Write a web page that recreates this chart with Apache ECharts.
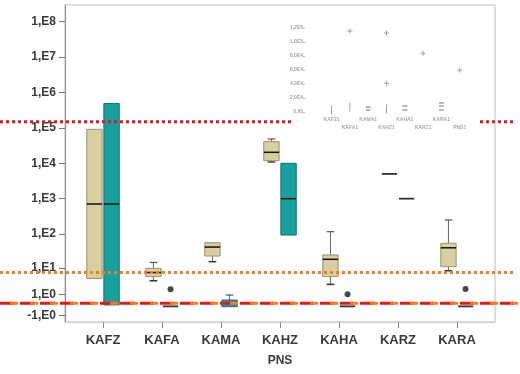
<!DOCTYPE html>
<html><head><meta charset="utf-8">
<script src="https://cdn.jsdelivr.net/npm/echarts@6/dist/echarts.min.js"></script>
<style>html,body{margin:0;padding:0;background:#fff}#c{width:520px;height:374px}</style>
</head><body><div id="c"></div>
<script>
// ---------- data ----------
const categories = ['KAFZ', 'KAFA', 'KAMA', 'KAHZ', 'KAHA', 'KARZ', 'KARA'];
const yTickValues = [-1, 1, 10, 100, 1e3, 1e4, 1e5, 1e6, 1e7, 1e8];
const yTickLabels = ['-1,E0', '1,E0', '1,E1', '1,E2', '1,E3', '1,E4', '1,E5', '1,E6', '1,E7', '1,E8'];
// [min, q1, median, q3, max]
const tanBoxes = [
  [4.6, 4.6, 707, 91000, 91000],
  [3.8, 5.3, 7.2, 9.8, 14.8],
  [15.6, 23, 42, 56, 58],
  [10900, 11800, 20400, 40700, 48500],
  [2.8, 5.3, 18.4, 24.7, 116],
  [5000, 5000, 5000, 5000, 5000],
  [8.2, 11, 40, 54, 249]
];
const tealBoxes = [
  [0, 0, 707, 490000, 490000],
  [-0.1, -0.1, -0.1, -0.1, -0.1],
  [-0.12, -0.12, 0.13, 0.37, 0.9],
  [93, 93, 1000, 10000, 10000],
  [-0.1, -0.1, -0.1, -0.1, -0.1],
  [1000, 1000, 1000, 1000, 1000],
  [-0.1, -0.1, -0.1, -0.1, -0.1]
];
const tealOutliers = [[1, 1.76], [4, 1.0], [6, 1.81]];
const refRedDotted = 1.5e5;
const refOrangeDotted = 7.2;
const refDashed = 0.12;

// inset (small faint chart, upper right)
const insetCategories = ['KAFZ1', 'KAFA1', 'KAMA1', 'KAHZ1', 'KAHA1', 'KARZ1', 'KARA1', 'PNS1'];
const insetYTicks = [0, 20000, 40000, 60000, 80000, 100000, 120000];
const insetYLabels = ['0,00', '2,0E4', '4,0E4', '6,0E4', '8,0E4', '1,0E5', '1,2E5'];
const insetPoints = [[1, 115700], [3, 112800], [5, 84000], [7, 60000], [3, 41000]];
const insetBars = [[0, 2900], [1, 7000], [3, 4300]];
const insetDashes = [[2, 7100], [2, 2900], [4, 8600], [4, 2900], [6, 12900], [6, 8600], [6, 2900]];

// ---------- helpers ----------
function sym(v) { return Math.sign(v) * Math.log10(1 + Math.abs(v)); }
const FONT = 'Liberation Sans';
const BOX_W = 0.26;

function makeBoxSeries(name, boxes, offset, fill, stroke) {
  return {
    type: 'custom', name: name, xAxisIndex: 0, yAxisIndex: 0, z: 3,
    data: boxes.map((b, i) => [i].concat(b.map(sym))),
    encode: { x: 0, y: [1, 2, 3, 4, 5] },
    renderItem: function (params, api) {
      const cx = api.value(0) + offset;
      const v = [1, 2, 3, 4, 5].map(k => api.value(k));
      const p = v.map(val => api.coord([cx, val]));
      const w = api.size([BOX_W, 0])[0];
      const xc = p[0][0];
      const x0 = xc - w / 2;
      const cw = w * 0.25;
      const ch = [];
      const ln = (x1, y1, x2, y2, color, lw) => ({ type: 'line', shape: { x1, y1, x2, y2 }, style: { stroke: color, lineWidth: lw } });
      if (p[4][1] < p[3][1] - 0.8) {
        ch.push(ln(xc, p[3][1], xc, p[4][1], '#666', 1));
        ch.push(ln(xc - cw, p[4][1], xc + cw, p[4][1], '#555', 1.2));
      }
      if (p[0][1] > p[1][1] + 0.8) {
        ch.push(ln(xc, p[1][1], xc, p[0][1], '#666', 1));
        ch.push(ln(xc - cw, p[0][1], xc + cw, p[0][1], '#333', 1.5));
      }
      const h = p[1][1] - p[3][1];
      if (h > 1) {
        ch.push({ type: 'rect', shape: { x: x0, y: p[3][1], width: w, height: h }, style: { fill: fill, stroke: stroke, lineWidth: 1 } });
        ch.push(ln(x0, p[2][1], x0 + w, p[2][1], '#111', 1.5));
      } else {
        ch.push(ln(x0, p[2][1], x0 + w, p[2][1], '#333', 1.8));
      }
      return { type: 'group', children: ch };
    }
  };
}

const chart = echarts.init(document.getElementById('c'), null, { renderer: 'canvas' });
const option = {
  animation: false,
  backgroundColor: '#fff',
  textStyle: { fontFamily: FONT },
  grid: [
    { left: 65, right: 25, top: 5, bottom: 52, show: true, borderColor: '#bdbdbd', borderWidth: 1 },
    { left: 305, width: 173, top: 28, height: 84 }
  ],
  xAxis: [
    {
      type: 'value', gridIndex: 0, min: -0.644, max: 6.644,
      axisLine: { show: true, onZero: false, lineStyle: { color: '#cfcfcf', width: 1 } },
      axisTick: { show: true, customValues: categories.map((c, i) => i), length: 6, lineStyle: { color: '#888' } },
      axisLabel: {
        customValues: categories.map((c, i) => i), margin: 12,
        formatter: v => categories[Math.round(v)] || '',
        color: '#3a3a3a', fontSize: 13, fontWeight: 'bold', fontFamily: FONT
      },
      splitLine: { show: false },
      name: 'PNS', nameLocation: 'middle', nameGap: 33,
      nameTextStyle: { color: '#3a3a3a', fontSize: 12, fontWeight: 'bold', fontFamily: FONT }
    },
    {
      type: 'value', gridIndex: 1, min: -1.45, max: 8.0, z: 5,
      axisLine: { show: false, onZero: false },
      axisTick: { show: false },
      axisLabel: {
        customValues: insetCategories.map((c, i) => i), margin: 4,
        formatter: v => { const i = Math.round(v); return (i % 2 ? '\n' : '') + insetCategories[i]; },
        color: '#a8a8a8', fontSize: 5, fontWeight: 'bold', fontFamily: FONT, lineHeight: 8
      },
      splitLine: { show: false }
    }
  ],
  yAxis: [
    {
      type: 'value', gridIndex: 0, min: -0.483, max: 8.47,
      axisLine: { show: true, onZero: false, lineStyle: { color: '#8a8a8a', width: 1 } },
      axisTick: { show: true, customValues: yTickValues.map(sym), length: 6, lineStyle: { color: '#777' } },
      axisLabel: {
        customValues: yTickValues.map(sym), margin: 9,
        formatter: function (val) {
          let best = 0, d = Infinity;
          yTickValues.forEach((t, i) => { const dd = Math.abs(sym(t) - val); if (dd < d) { d = dd; best = i; } });
          return yTickLabels[best];
        },
        color: '#3a3a3a', fontSize: 12, fontWeight: 'bold', fontFamily: FONT
      },
      splitLine: { show: false }
    },
    {
      type: 'value', gridIndex: 1, min: 0, max: 120000, interval: 20000, z: 5,
      axisLine: { show: false, onZero: false },
      axisTick: { show: true, length: 2, lineStyle: { color: '#bbb' } },
      axisLabel: {
        margin: 2,
        formatter: v => insetYLabels[insetYTicks.indexOf(v)] || '',
        color: '#a0a0a0', fontSize: 5, fontWeight: 'bold', fontFamily: FONT
      },
      splitLine: { show: false }
    }
  ],
  series: [
    makeBoxSeries('tan', tanBoxes, -0.145, '#d8cfa0', '#9a916a'),
    makeBoxSeries('teal', tealBoxes, 0.145, '#18a09e', '#0c6f6e'),
    {
      type: 'scatter', xAxisIndex: 0, yAxisIndex: 0, z: 4,
      data: tealOutliers.map(o => [o[0] + 0.145, sym(o[1])]),
      symbol: 'circle', symbolSize: 6, itemStyle: { color: '#1a1a1a' }
    },
    {
      type: 'scatter', xAxisIndex: 1, yAxisIndex: 1, z: 6,
      data: insetPoints,
      symbol: 'path://M4,0h2v4h4v2h-4v4h-2v-4h-4v-2h4z', symbolSize: 5,
      itemStyle: { color: '#8a8a8a' }
    },
    {
      type: 'scatter', xAxisIndex: 1, yAxisIndex: 1, z: 6,
      data: insetBars, symbol: 'rect', symbolSize: [1, 9],
      itemStyle: { color: '#8a8a8a' }
    },
    {
      type: 'scatter', xAxisIndex: 1, yAxisIndex: 1, z: 6,
      data: insetDashes, symbol: 'rect', symbolSize: [5, 1.5],
      itemStyle: { color: '#8a8a8a' }
    }
  ]
};
chart.setOption(option);

const yPix = v => chart.convertToPixel({ yAxisIndex: 0 }, sym(v));
const yR = yPix(refRedDotted), yO = yPix(refOrangeDotted), yD = yPix(refDashed);
const hl = (x1, x2, y, color, dash, off, w) => ({
  type: 'line', z: 20, silent: true,
  shape: { x1: x1, y1: y, x2: x2, y2: y },
  style: { stroke: color, lineWidth: w, lineDash: dash, lineDashOffset: off || 0 }
});
chart.setOption({
  graphic: [
    hl(0, 291, yR, '#e8161b', [3, 3], 0, 3),
    hl(480, 514, yR, '#e8161b', [3, 3], 0, 3),
    hl(0, 514, yO, '#ff7a1c', [3, 3], 0, 3),
    hl(0, 520, yD, '#e8161b', [14, 6], 0, 3),
    hl(0, 520, yD, '#ff7a1c', [8, 12], -10, 3)
  ]
});
</script>
</body></html>
